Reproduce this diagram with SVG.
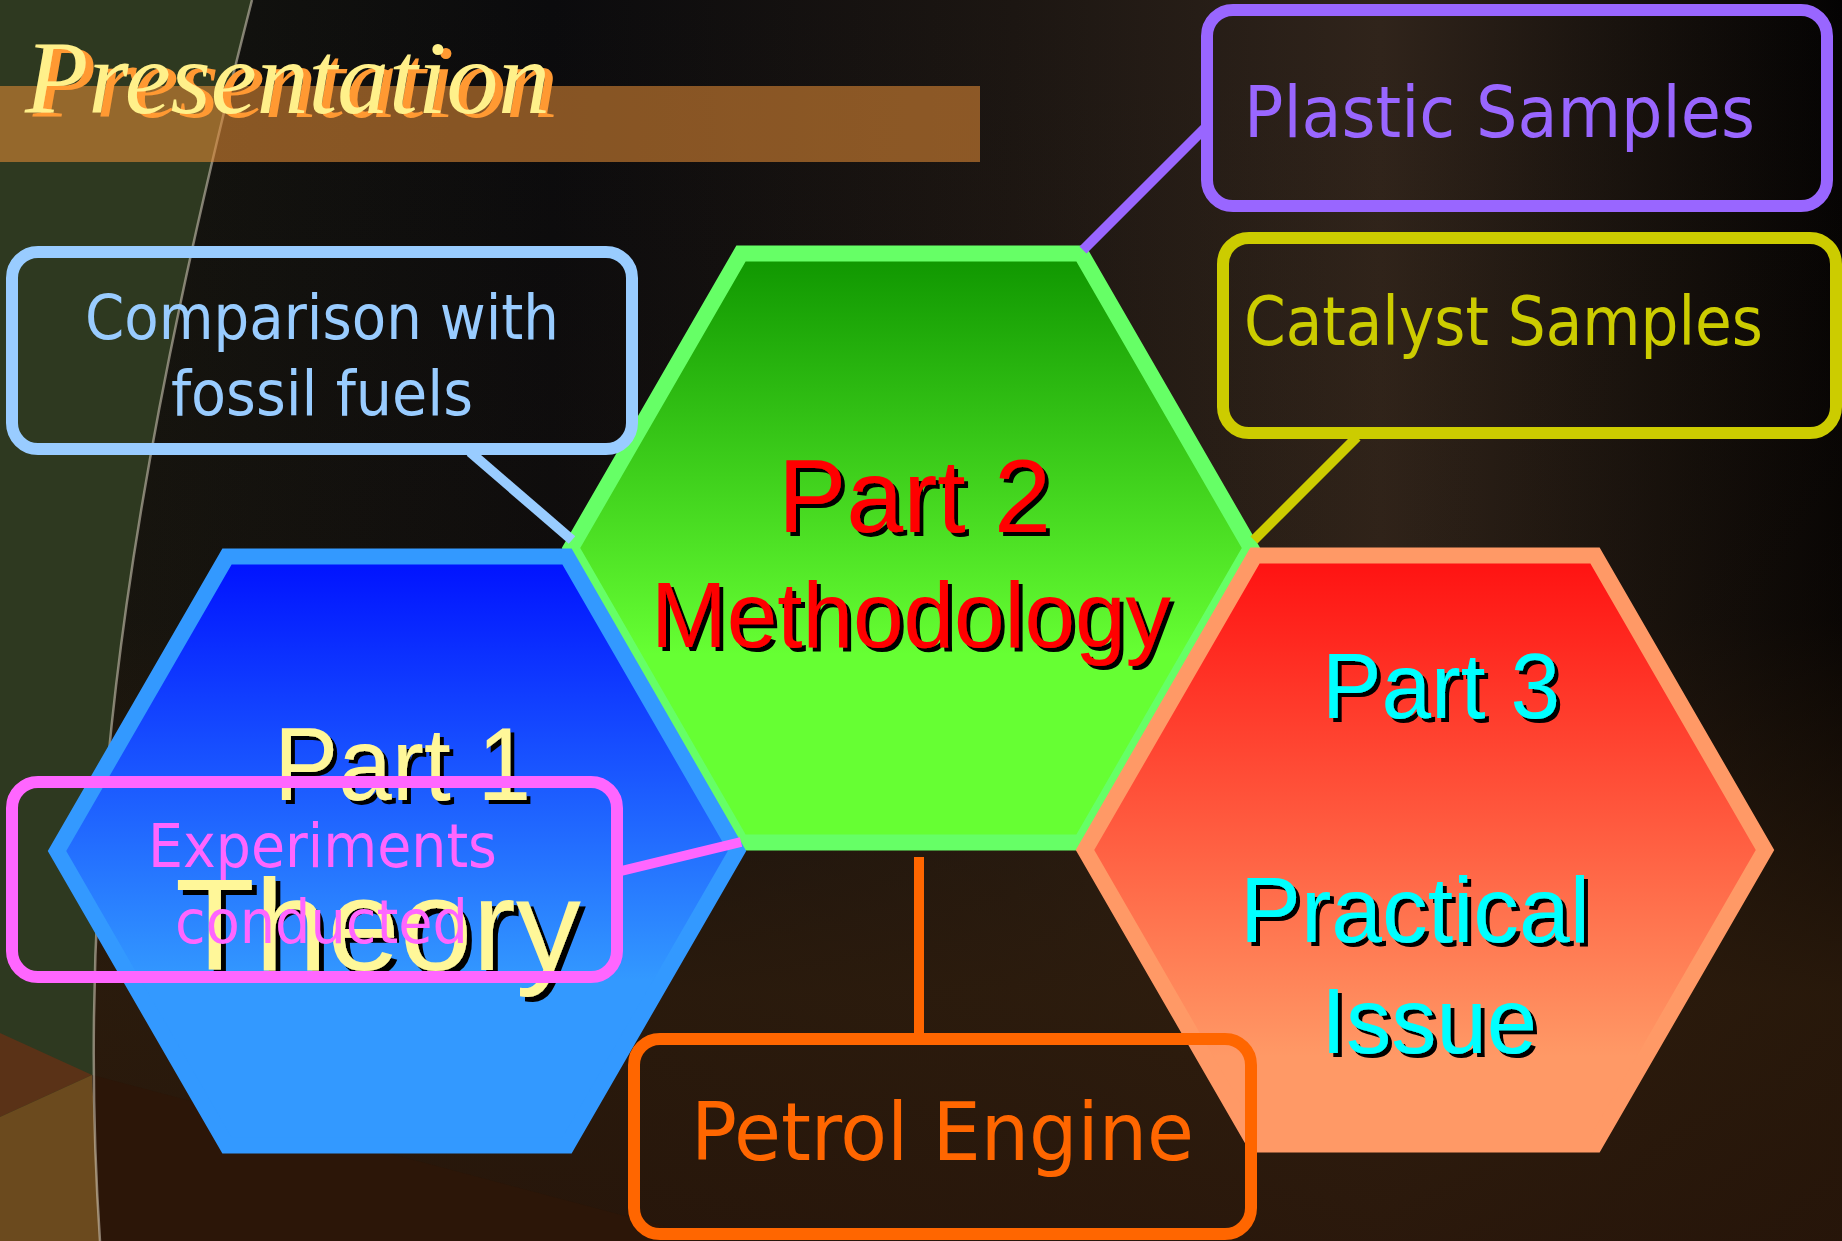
<svg xmlns="http://www.w3.org/2000/svg" width="1842" height="1241" viewBox="0 0 1842 1241">
<defs>
<linearGradient id="bgH" x1="0" y1="0" x2="1" y2="0">
<stop offset="0" stop-color="#16160f"/>
<stop offset="0.3" stop-color="#0b0b0d"/>
<stop offset="0.55" stop-color="#1c1612"/>
<stop offset="0.75" stop-color="#30241b"/>
<stop offset="0.9" stop-color="#15100c"/>
<stop offset="1" stop-color="#040303"/>
</linearGradient>
<linearGradient id="bgV" x1="0" y1="0" x2="0" y2="1">
<stop offset="0" stop-color="#2e1c0c" stop-opacity="0"/>
<stop offset="0.5" stop-color="#2e1c0c" stop-opacity="0.15"/>
<stop offset="0.8" stop-color="#2e1c0c" stop-opacity="0.85"/>
<stop offset="1" stop-color="#2a170a" stop-opacity="0.9"/>
</linearGradient>
<linearGradient id="gBlue" x1="0" y1="0" x2="0" y2="1">
<stop offset="0" stop-color="#0011ff"/>
<stop offset="0.72" stop-color="#3399ff"/>
<stop offset="1" stop-color="#3399ff"/>
</linearGradient>
<linearGradient id="gGreen" x1="0" y1="0" x2="0" y2="1">
<stop offset="0" stop-color="#0f9600"/>
<stop offset="0.68" stop-color="#66ff33"/>
<stop offset="1" stop-color="#66ff33"/>
</linearGradient>
<linearGradient id="gRed" x1="0" y1="0" x2="0" y2="1">
<stop offset="0" stop-color="#ff1111"/>
<stop offset="0.85" stop-color="#ff9966"/>
<stop offset="1" stop-color="#ff9966"/>
</linearGradient>
<filter id="sh" x="-10%" y="-10%" width="130%" height="140%">
<feFlood flood-color="#000000"/>
<feComposite in2="SourceAlpha" operator="in"/>
<feOffset dx="4" dy="4" result="s"/>
<feMerge><feMergeNode in="s"/><feMergeNode in="SourceGraphic"/></feMerge>
</filter>
<filter id="sh5" x="-10%" y="-10%" width="130%" height="140%">
<feFlood flood-color="#000000"/>
<feComposite in2="SourceAlpha" operator="in"/>
<feOffset dx="5" dy="5" result="s"/>
<feMerge><feMergeNode in="s"/><feMergeNode in="SourceGraphic"/></feMerge>
</filter>
<filter id="shO" x="-10%" y="-20%" width="130%" height="150%">
<feFlood flood-color="#ff9933"/>
<feComposite in2="SourceAlpha" operator="in"/>
<feOffset dx="8" dy="4" result="s"/>
<feMerge><feMergeNode in="s"/><feMergeNode in="SourceGraphic"/></feMerge>
</filter>
</defs>
<style>
.hex{stroke-width:16;stroke-linejoin:miter}
.big{font-family:"Liberation Sans",Arial,sans-serif;filter:url(#sh)}
.box{fill:none;stroke-width:12}
.lbl{font-family:"DejaVu Sans Condensed","DejaVu Sans",sans-serif;font-stretch:condensed}
.con{fill:none;stroke-width:10;stroke-linecap:butt}
</style>

<!-- background -->
<rect x="0" y="0" width="1842" height="1241" fill="url(#bgH)"/>
<rect x="0" y="0" width="1842" height="1241" fill="url(#bgV)"/>
<path d="M252,0 C150,400 70,800 100,1241 L0,1241 L0,0 Z" fill="#2e3920"/>
<path d="M0,1033 L92,1075 L0,1117 Z" fill="#5a3217"/>
<path d="M0,1117 L92,1075 L100,1241 L0,1241 Z" fill="#6b4a1e"/>
<path d="M92,1075 L720,1241 L100,1241 Z" fill="#2c1608"/>
<path d="M252,0 C150,400 70,800 100,1241" fill="none" stroke="#d8cfc0" stroke-opacity="0.55" stroke-width="2.5"/>

<!-- title -->
<rect x="0" y="86" width="980" height="76" fill="#e08a35" fill-opacity="0.58"/>
<text x="25" y="113" font-family="Liberation Serif,serif" font-style="italic" font-size="104" fill="#fff08a" textLength="525" lengthAdjust="spacingAndGlyphs" filter="url(#shO)">Presentation</text>

<!-- hexagon nodes -->
<g id="part2">
<path class="hex" d="M571,548 L741,253.5 L1081,253.5 L1251,548 L1081,842.5 L741,842.5 Z" fill="url(#gGreen)" stroke="#66ff66"/>
<text class="big" x="778" y="532" font-size="104" fill="#ff0000" textLength="273" lengthAdjust="spacingAndGlyphs">Part 2</text>
<text class="big" x="651" y="647" font-size="92" fill="#ff0000" textLength="520" lengthAdjust="spacingAndGlyphs">Methodology</text>
</g>
<g id="part1">
<path class="hex" d="M57,851 L227,556.5 L567,556.5 L737,851 L567,1145.5 L227,1145.5 Z" fill="url(#gBlue)" stroke="#3399ff"/>
<text class="big" x="274" y="800" font-size="104" fill="#fff799" textLength="257" lengthAdjust="spacingAndGlyphs">Part 1</text>
<text x="175" y="970" font-family="Liberation Sans,Arial,sans-serif" filter="url(#sh5)" font-size="130" fill="#fff799" textLength="406" lengthAdjust="spacingAndGlyphs">Theory</text>
</g>
<g id="part3">
<path class="hex" d="M1085,850 L1255,555.5 L1595,555.5 L1765,850 L1595,1144.5 L1255,1144.5 Z" fill="url(#gRed)" stroke="#ff9966"/>
<text class="big" x="1322" y="718" font-size="93" fill="#00ffff" textLength="238" lengthAdjust="spacingAndGlyphs">Part 3</text>
<text class="big" x="1240" y="942" font-size="92" fill="#00ffff" textLength="350" lengthAdjust="spacingAndGlyphs">Practical</text>
<text class="big" x="1321" y="1053" font-size="92" fill="#00ffff" textLength="216" lengthAdjust="spacingAndGlyphs">Issue</text>
</g>

<!-- connectors -->
<g id="connectors">
<line class="con" x1="1083" y1="250" x2="1205" y2="128" stroke="#9966ff"/>
<line class="con" x1="1357" y1="437" x2="1254" y2="540" stroke="#cccc00"/>
<line class="con" x1="470" y1="452" x2="572" y2="540" stroke="#99ccff"/>
<line class="con" x1="617" y1="872" x2="741" y2="842" stroke="#ff66ff"/>
<line class="con" x1="919" y1="857" x2="919" y2="1033" stroke="#ff6600"/>
</g>

<!-- box nodes -->
<g id="plastic">
<rect class="box" x="1207" y="10" width="620" height="196" rx="26" stroke="#9966ff"/>
<text class="lbl" x="1244" y="137" font-size="71" fill="#9966ff" textLength="511" lengthAdjust="spacingAndGlyphs">Plastic Samples</text>
</g>
<g id="catalyst">
<rect class="box" x="1223" y="238" width="613" height="195" rx="26" stroke="#cccc00"/>
<text class="lbl" x="1244" y="345" font-size="68" fill="#cccc00" textLength="519" lengthAdjust="spacingAndGlyphs">Catalyst Samples</text>
</g>
<g id="comparison">
<rect class="box" x="12" y="252" width="620" height="197" rx="26" stroke="#99ccff"/>
<text class="lbl" x="85" y="339" font-size="63" fill="#99ccff" textLength="474" lengthAdjust="spacingAndGlyphs">Comparison with</text>
<text class="lbl" x="171" y="415" font-size="63" fill="#99ccff" textLength="302" lengthAdjust="spacingAndGlyphs">fossil fuels</text>
</g>
<g id="experiments">
<rect class="box" x="12" y="782" width="605" height="195" rx="26" stroke="#ff66ff"/>
<text class="lbl" x="148" y="867" font-size="60" fill="#ff66ff" textLength="349" lengthAdjust="spacingAndGlyphs">Experiments</text>
<text class="lbl" x="175" y="943" font-size="60" fill="#ff66ff" textLength="293" lengthAdjust="spacingAndGlyphs">conducted</text>
</g>
<g id="petrol">
<rect class="box" x="634" y="1039" width="617" height="195" rx="26" stroke="#ff6600"/>
<text class="lbl" x="691" y="1160" font-size="80" fill="#ff6600" textLength="503" lengthAdjust="spacingAndGlyphs">Petrol Engine</text>
</g>
</svg>
